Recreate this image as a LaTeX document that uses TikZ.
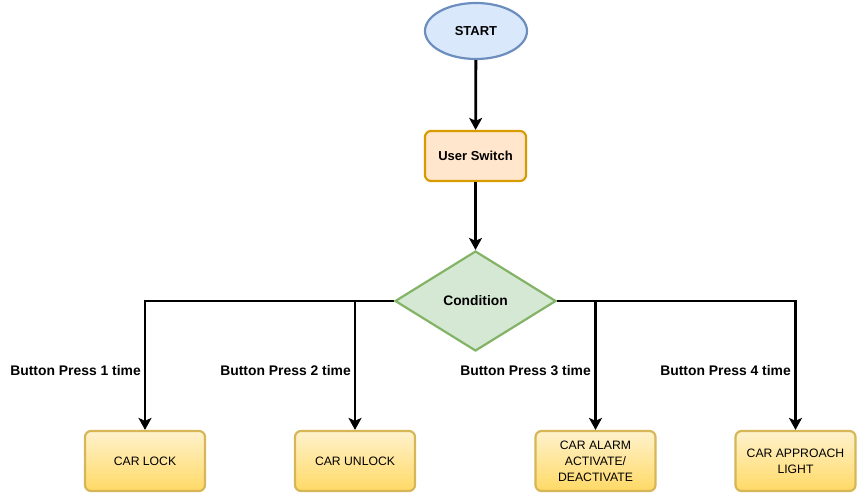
\documentclass[tikz,border=0pt]{standalone}
\usepackage{fontspec}
\setmainfont{Liberation Sans}
\usetikzlibrary{shapes.geometric,arrows.meta}
\definecolor{bluefill}{HTML}{DAE8FC}
\definecolor{bluedraw}{HTML}{6C8EBF}
\definecolor{orfill}{HTML}{FFE6CC}
\definecolor{ordraw}{HTML}{D79B00}
\definecolor{grfill}{HTML}{D5E8D4}
\definecolor{grdraw}{HTML}{82B366}
\definecolor{yetop}{HTML}{FFF2CC}
\definecolor{yebot}{HTML}{FFD966}
\definecolor{yedraw}{HTML}{D6B656}
\tikzset{
  startnode/.style={ellipse,draw=bluedraw,fill=bluefill,line width=2.2pt,minimum width=102pt,minimum height=56pt,inner sep=0pt,font=\fontsize{13pt}{15pt}\selectfont\bfseries},
  procbox/.style={rectangle,rounded corners=6pt,draw=ordraw,fill=orfill,line width=2.2pt,minimum width=101pt,minimum height=50pt,inner sep=0pt,font=\fontsize{13pt}{15pt}\selectfont\bfseries},
  condnode/.style={diamond,draw=grdraw,fill=grfill,line width=2.2pt,minimum width=161pt,minimum height=100pt,inner sep=0pt,aspect=1.61,font=\fontsize{13.8pt}{15pt}\selectfont\bfseries},
  outbox/.style={rectangle,rounded corners=6pt,draw=yedraw,top color=yetop,bottom color=yebot,line width=2.2pt,minimum width=120pt,minimum height=60pt,inner sep=0pt,align=center,font=\fontsize{12.2pt}{16pt}\selectfont},
  conn/.style={line width=2.8pt,-{Stealth[length=12pt,width=13pt,inset=3pt]}},
  lbl/.style={font=\fontsize{13.9pt}{15pt}\selectfont\bfseries,anchor=east,inner sep=0pt}
}
\begin{document}
\begin{tikzpicture}[x=1pt,y=-1pt]
\useasboundingbox (0,0) rectangle (857,493);
\node[startnode] (start) at (476,31) {START};
\node[procbox] (user) at (475.5,156) {User Switch};
\node[condnode] (cond) at (475.5,301) {Condition};
\node[outbox] (lock) at (145,461) {CAR LOCK};
\node[outbox] (unlock) at (355,461) {CAR UNLOCK};
\node[outbox] (alarm) at (595.5,461) {CAR ALARM\\ACTIVATE/\\DEACTIVATE};
\node[outbox] (appr) at (795.5,461) {CAR APPROACH\\LIGHT};
\draw[conn] (start) -- (user);
\draw[conn] (user) -- (cond);
\draw[conn] (cond.west) -| (lock.north);
\draw[conn] (cond.west) -| (unlock.north);
\draw[conn] (cond.east) -| (alarm.north);
\draw[conn] (cond.east) -| (appr.north);
\node[lbl] (l1) at (141,371) {Button Press 1 time};
\node[lbl] (l2) at (351,371) {Button Press 2 time};
\node[lbl] (l3) at (591,371) {Button Press 3 time};
\node[lbl] (l4) at (791,371) {Button Press 4 time};
\end{tikzpicture}
\end{document}
